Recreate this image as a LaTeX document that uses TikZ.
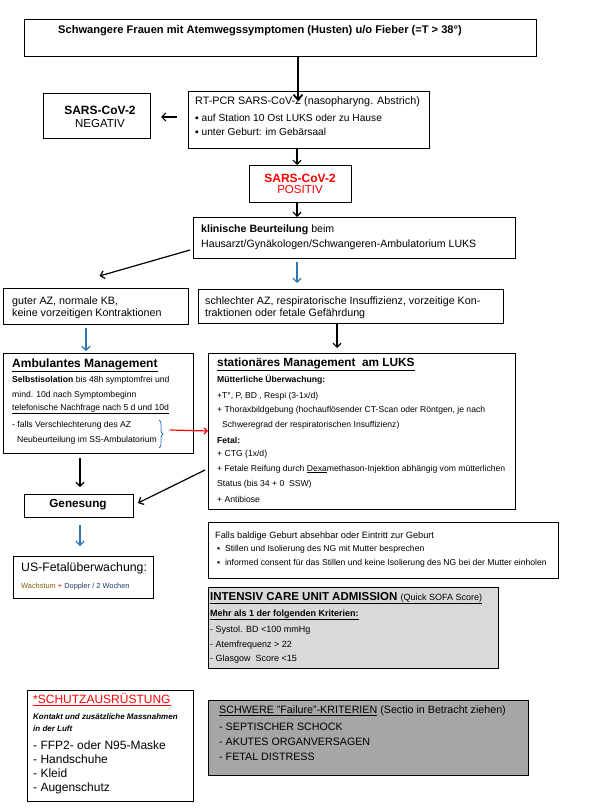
\documentclass[tikz,border=0pt]{standalone}
\usepackage{fontspec}
\setmainfont{Liberation Sans}
\usetikzlibrary{arrows.meta,decorations.pathreplacing}
\definecolor{arrblue}{RGB}{46,117,182}
\definecolor{gray1}{RGB}{217,217,217}
\definecolor{gray2}{RGB}{166,166,166}
\definecolor{wachs}{RGB}{127,96,0}
\definecolor{dblue}{RGB}{31,56,100}
\newcommand\fsz[1]{\fontsize{#1pt}{#1pt}\selectfont}
\begin{document}
\begin{tikzpicture}[x=1pt,y=-1pt,
  box/.style={draw,line width=0.9pt,anchor=north west,inner sep=0,outer sep=0},
  txt/.style={anchor=west,inner sep=0},
  ctxt/.style={anchor=center,inner sep=0},
  blk/.style={line width=1.2pt,-{Straight Barb[length=4pt,width=8pt,line width=1.2pt]}},
  blu/.style={arrblue,line width=1.2pt,-{Straight Barb[length=4pt,width=8pt,line width=1.2pt]}},
  rdar/.style={red,line width=1.2pt,-{Straight Barb[length=3pt,width=6pt,line width=1.2pt]}}]
\useasboundingbox (0,0) rectangle (591,810);
\fill[white] (0,0) rectangle (591,810);

% boxes
\node[box,minimum width=512,minimum height=37] (title) at (24,19) {};
\node[box,minimum width=107,minimum height=45] (neg) at (43,93) {};
\node[box,minimum width=241,minimum height=57] (rt) at (188,91) {};
\node[box,minimum width=102,minimum height=37] (pos) at (249,165) {};
\node[box,minimum width=322,minimum height=41] (klin) at (193,217) {};
\node[box,minimum width=185,minimum height=36] (guter) at (3,288) {};
\node[box,minimum width=305,minimum height=34] (schl) at (198,289) {};
\node[box,minimum width=190,minimum height=100] (amb) at (3,353) {};
\node[box,minimum width=307,minimum height=156] (stat) at (208,353) {};
\node[box,minimum width=109,minimum height=23] (gen) at (24,494) {};
\node[box,minimum width=140,minimum height=42] (us) at (13,556) {};
\node[box,minimum width=350,minimum height=56] (falls) at (208,522) {};
\node[box,minimum width=290,minimum height=81,fill=gray1] (icu) at (208,587) {};
\node[box,minimum width=166,minimum height=111] (schutz) at (27,690) {};
\node[box,minimum width=320,minimum height=75,fill=gray2] (schwer) at (208,700) {};

% texts
\node[ctxt,font=\fsz{11.1}\bfseries] (t1) at (260,31) {Schwangere Frauen mit Atemwegssymptomen (Husten) u/o Fieber (=T > 38°)};

\node[ctxt,font=\fsz{12}\bfseries] (n1) at (100,110) {SARS-CoV-2};
\node[ctxt,font=\fsz{11.5}] (n2) at (100,124) {NEGATIV};

\node[txt,font=\fsz{10.8}] (r1) at (195,102) {RT-PCR SARS-CoV-2 (nasopharyng. Abstrich)};
\node[txt,font=\fsz{10.2}] (r2) at (195,118) {▪ auf Station 10 Ost LUKS oder zu Hause};
\node[txt,font=\fsz{10.2}] (r3) at (195,132) {▪ unter Geburt: im Gebärsaal};

\node[ctxt,font=\fsz{12}\bfseries,text=red] (p1) at (300,178) {SARS-CoV-2};
\node[ctxt,font=\fsz{11.5},text=red] (p2) at (300,190) {POSITIV};

\node[txt,font=\fsz{10.6}] (k1) at (201,230) {\textbf{klinische Beurteilung} beim};
\node[txt,font=\fsz{10.6}] (k2) at (201,245) {Hausarzt/Gynäkologen/Schwangeren-Ambulatorium LUKS};

\node[txt,font=\fsz{10.7}] (g1) at (12,302) {guter AZ, normale KB,};
\node[txt,font=\fsz{10.7}] (g2) at (12,314) {keine vorzeitigen Kontraktionen};

\node[txt,font=\fsz{10.7}] (s1) at (205,302) {schlechter AZ, respiratorische Insuffizienz, vorzeitige Kon-};
\node[txt,font=\fsz{10.7}] (s2) at (205,314) {traktionen oder fetale Gefährdung};

\node[txt,font=\fsz{12}\bfseries] (a0) at (12,365) {\underline{Ambulantes Management}};
\node[txt,font=\fsz{8.6}] (a1) at (12,380) {\textbf{Selbstisolation} bis 48h symptomfrei und};
\node[txt,font=\fsz{8.6}] (a2) at (12,395) {mind. 10d nach Symptombeginn};
\node[txt,font=\fsz{8.6}] (a3) at (12,409) {\underline{telefonische Nachfrage nach 5 d und 10d}};
\node[txt,font=\fsz{8.6}] (a4) at (12,425) {- falls Verschlechterung des AZ};
\node[txt,font=\fsz{8.6}] (a5) at (17,440) {Neubeurteilung im SS-Ambulatorium};

\node[txt,font=\fsz{11.8}\bfseries] (st0) at (217,364) {\underline{stationäres Management\ \ am LUKS}};
\node[txt,font=\fsz{8.6}\bfseries] (st1) at (217,380) {Mütterliche Überwachung:};
\node[txt,font=\fsz{8.6}] (st2) at (217,396) {+T°, P, BD , Respi (3-1x/d)};
\node[txt,font=\fsz{8.6}] (st3) at (217,410) {+ Thoraxbildgebung (hochauflösender CT-Scan oder Röntgen, je nach};
\node[txt,font=\fsz{8.6}] (st4) at (222,425) {Schweregrad der respiratorischen Insuffizienz)};
\node[txt,font=\fsz{8.6}\bfseries] (st5) at (217,440) {Fetal:};
\node[txt,font=\fsz{8.6}] (st6) at (217,454) {+ CTG (1x/d)};
\node[txt,font=\fsz{8.6}] (st7) at (217,469) {+ Fetale Reifung durch \underline{Dexa}methason-Injektion abhängig vom mütterlichen};
\node[txt,font=\fsz{8.6}] (st8) at (217,484) {Status (bis 34 + 0\ \ SSW)};
\node[txt,font=\fsz{8.6}] (st9) at (217,499) {+ Antibiose};

\node[ctxt,font=\fsz{11.7}\bfseries] (ge) at (78,505) {Genesung};

\node[txt,font=\fsz{12.3}] (u1) at (21,568) {US-Fetalüberwachung:};
\node[txt,font=\fsz{7.4}] (u2) at (21,587) {\textcolor{wachs}{Wachstum} \textcolor{red}{+} \textcolor{dblue}{Doppler / 2 Wochen}};

\node[txt,font=\fsz{9.2}] (f1) at (215,536) {Falls baldige Geburt absehbar oder Eintritt zur Geburt};
\node[txt,font=\fsz{8.6}] (f2) at (217,549) {▪\ \ Stillen und Isolierung des NG mit Mutter besprechen};
\node[txt,font=\fsz{8.6}] (f3) at (217,563) {▪\ \ informed consent für das Stillen und keine Isolierung des NG bei der Mutter einholen};

\node[txt,font=\fsz{11.5}] (i0) at (210,598) {\underline{\textbf{INTENSIV CARE UNIT ADMISSION}\ {\fsz{9}(Quick SOFA Score)}}};
\node[txt,font=\fsz{9}\bfseries] (i1) at (210,615) {\underline{Mehr als 1 der folgenden Kriterien:}};
\node[txt,font=\fsz{9}] (i2) at (210,630) {- Systol. BD <100 mmHg};
\node[txt,font=\fsz{9}] (i3) at (210,645) {- Atemfrequenz > 22};
\node[txt,font=\fsz{9}] (i4) at (210,659) {- Glasgow\ \ Score <15};

\node[txt,font=\fsz{12},text=red] (h0) at (33,700) {\underline{*SCHUTZAUSRÜSTUNG}};
\node[txt,font=\fsz{8}\itshape\bfseries] (h1) at (33,717) {Kontakt und zusätzliche Massnahmen};
\node[txt,font=\fsz{8}\itshape\bfseries] (h2) at (33,729) {in der Luft};
\node[txt,font=\fsz{12}] (h3) at (33,745) {- FFP2- oder N95-Maske};
\node[txt,font=\fsz{12}] (h4) at (33,759) {- Handschuhe};
\node[txt,font=\fsz{12}] (h5) at (33,773) {- Kleid};
\node[txt,font=\fsz{12}] (h6) at (33,788) {- Augenschutz};

\node[txt,font=\fsz{10.7}] (w0) at (219,711) {\underline{SCHWERE "Failure"-KRITERIEN} (Sectio in Betracht ziehen)};
\node[txt,font=\fsz{10.7}] (w1) at (219,727) {- SEPTISCHER SCHOCK};
\node[txt,font=\fsz{10.7}] (w2) at (219,742) {- AKUTES ORGANVERSAGEN};
\node[txt,font=\fsz{10.7}] (w3) at (219,757) {- FETAL DISTRESS};

% connectors
\coordinate (ax) at (297,0);
\coordinate (tx) at (298,101);
\coordinate (bx) at (337,0);
\coordinate (lx) at (86,0);
\coordinate (gx) at (80,0);
\draw[line width=1.4pt,-{Straight Barb[length=5pt,width=9pt,line width=1.8pt]}] (title.south -| tx) -- (tx);
\draw[blk] ([xshift=-11pt,yshift=2.5pt]rt.west) -- ++(-16,0);
\draw[blk] (rt.south -| ax) -- (pos.north -| ax);
\draw[blk] (pos.south -| ax) -- (klin.north -| ax);
\draw[blk] ([shift={(-3,-8)}]klin.south west) -- ([shift={(4,-12)}]guter.north);
\draw[blu] ([yshift=-4pt]klin.south -| ax) -- ([yshift=6pt]schl.north -| ax);
\draw[blk] (schl.south -| bx) -- ([yshift=5pt]stat.north -| bx);
\draw[blu] ([yshift=-4pt]guter.south -| lx) -- ([yshift=2pt]amb.north -| lx);
\draw[blk] ([yshift=-5pt]amb.south -| gx) -- ([yshift=7pt]gen.north -| gx);
\draw[blk] ([shift={(-3,-39)}]stat.south west) -- ([shift={(5,9)}]gen.north east);
\draw[blu] ([yshift=-8pt]gen.south -| gx) -- ([yshift=10pt]us.north -| gx);
\draw[arrblue,line width=0.8pt,decorate,decoration={brace,amplitude=4pt}] (159,420) -- (159,448);
\draw[rdar] ([shift={(-38,-1)}]stat.west) -- (stat.west);
\end{tikzpicture}
\end{document}
